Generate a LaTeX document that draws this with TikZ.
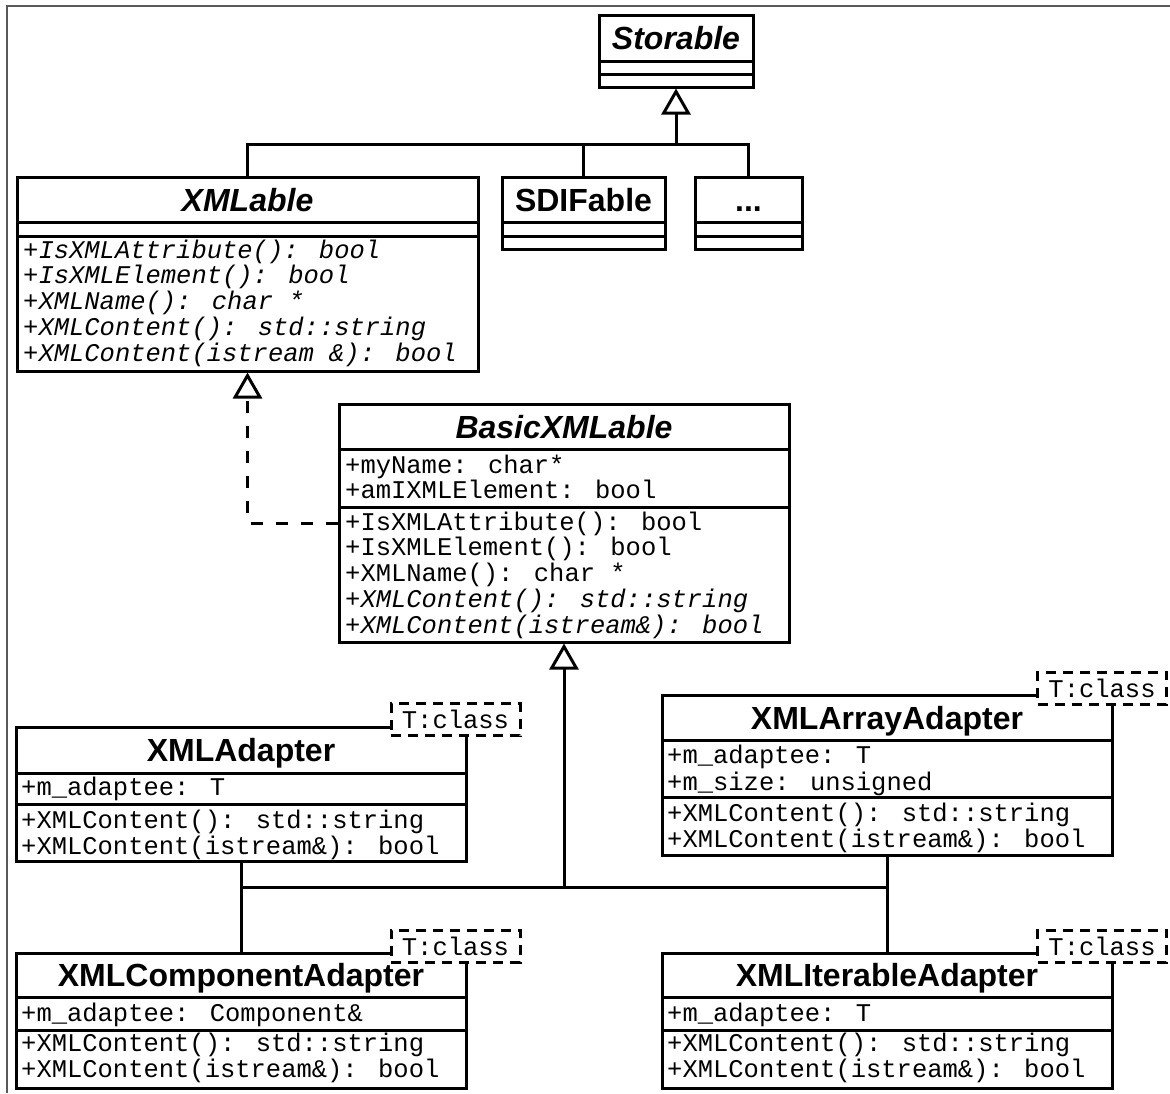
\documentclass[tikz,border=0pt]{standalone}
\usepackage{fontspec}
\newfontfamily\umlsans{Liberation Sans}
\newfontfamily\umlmono{Liberation Mono}
\usetikzlibrary{arrows.meta}
\tikzset{cls/.style={draw, line width=3pt, fill=white, inner sep=0pt}}
\tikzset{rel/.style={line width=3pt}}
\tikzset{ttl/.style={font=\umlsans\bfseries\fontsize{32}{32}\selectfont, anchor=base, inner sep=0pt}}
\tikzset{mem/.style={font=\umlmono\fontsize{25.5}{26}\selectfont, anchor=base west, inner sep=0pt}}
\tikzset{tpl/.style={draw, line width=3pt, dash pattern=on 10pt off 7pt, fill=white, inner sep=0pt,
  minimum width=129pt, minimum height=32pt, font=\umlmono\fontsize{25.5}{26}\selectfont}}
\tikzset{gen/.style={rel, -{Triangle[open, length=26pt, width=29pt]}}}
\tikzset{real/.style={gen, dash pattern=on 12pt off 13pt}}

\begin{document}
\begin{tikzpicture}[x=1pt,y=-1pt]
    \useasboundingbox (0,0) rectangle (1170,1093);
    \draw[line width=1.5pt, black!65] (7,1093) -- (7,6) -- (1170,6);
    % class boxes
    \node[cls, minimum width=154pt, minimum height=72pt] (storable) at (676,51) {};
    \node[cls, minimum width=461pt, minimum height=194pt] (xmlable) at (247.5,274) {};
    \node[cls, minimum width=163pt, minimum height=72pt] (sdifable) at (583.5,213) {};
    \node[cls, minimum width=107pt, minimum height=72pt] (dots) at (748.5,213) {};
    \node[cls, minimum width=450pt, minimum height=238pt] (basic) at (564,523) {};
    \node[cls, minimum width=450pt, minimum height=134pt] (xmladapter) at (241,794) {};
    \node[cls, minimum width=450pt, minimum height=160pt] (arrayadapter) at (887,775) {};
    \node[cls, minimum width=450pt, minimum height=135pt] (compadapter) at (241,1020.5) {};
    \node[cls, minimum width=450pt, minimum height=135pt] (iteradapter) at (887,1020.5) {};
    % compartments
    \foreach \y in {61,74} \draw[rel] (599,\y) -- (753,\y);
    \foreach \y in {222,236} {
      \draw[rel] (17,\y) -- (478,\y);
      \draw[rel] (502,\y) -- (665,\y);
      \draw[rel] (695,\y) -- (802,\y);
    }
    \foreach \y in {449,507} \draw[rel] (339,\y) -- (789,\y);
    \foreach \y in {773,804} \draw[rel] (16,\y) -- (466,\y);
    \foreach \y in {740,797} \draw[rel] (662,\y) -- (1112,\y);
    \foreach \y in {997,1030} {
      \draw[rel] (16,\y) -- (466,\y);
      \draw[rel] (662,\y) -- (1112,\y);
    }
    % names
    \node[ttl] (storablename) at (676,49.5) {\itshape Storable};
    \node[ttl] (xmlablename) at (247.5,211) {\itshape XMLable};
    \node[ttl] (sdifablename) at (583.5,211) {SDIFable};
    \node[ttl] (dotsname) at (748.5,211) {...};
    \node[ttl] (basicname) at (564,438.5) {\itshape BasicXMLable};
    \node[ttl] (xmladaptername) at (241,761.5) {XMLAdapter};
    \node[ttl] (arrayadaptername) at (887,729) {XMLArrayAdapter};
    \node[ttl] (compadaptername) at (241,986.5) {XMLComponentAdapter};
    \node[ttl] (iteradaptername) at (887,986.5) {XMLIterableAdapter};
    % members
    \foreach \s [count=\i] in {+IsXMLAttribute(): bool, +IsXMLElement(): bool, +XMLName(): char *,
        +XMLContent(): std::string, +XMLContent(istream \&): bool}
      \node[mem] (xmlableop\i) at (23,{232.25+25.75*\i}) {\itshape\s};
    \node[mem] (basicattr1) at (345,473) {+myName: char*};
    \node[mem] (basicattr2) at (345,498) {+amIXMLElement: bool};
    \node[mem] (basicop1) at (345,530) {+IsXMLAttribute(): bool};
    \node[mem] (basicop2) at (345,555.75) {+IsXMLElement(): bool};
    \node[mem] (basicop3) at (345,581.5) {+XMLName(): char *};
    \node[mem] (basicop4) at (345,607.25) {\itshape +XMLContent(): std::string};
    \node[mem] (basicop5) at (345,633) {\itshape +XMLContent(istream\&): bool};
    \node[mem] (xmladapterattr) at (21,795) {+m\_adaptee: T};
    \node[mem] (arrayadapterattr1) at (667,763) {+m\_adaptee: T};
    \node[mem] (arrayadapterattr2) at (667,790) {+m\_size: unsigned};
    \node[mem] (compadapterattr) at (21,1021) {+m\_adaptee: Component\&};
    \node[mem] (iteradapterattr) at (667,1021) {+m\_adaptee: T};
    \foreach \n/\x/\y in {xmladapter/21/828, arrayadapter/667/821, compadapter/21/1051, iteradapter/667/1051} {
      \node[mem] (\n op1) at (\x,\y) {+XMLContent(): std::string};
      \node[mem] (\n op2) at (\x,\y+26) {+XMLContent(istream\&): bool};
    }
    % template parameters
    \node[tpl] (xmladaptertpl) at (455.5,719.5) {T:class};
    \node[tpl] (arrayadaptertpl) at (1102,688) {T:class};
    \node[tpl] (compadaptertpl) at (455.5,946) {T:class};
    \node[tpl] (iteradaptertpl) at (1102,946) {T:class};
    % generalisations
    \coordinate (storejoin) at (676,144);
    \draw[gen] (storejoin) -- (storable.south);
    \draw[rel] (xmlable.north) |- (storejoin);
    \draw[rel] (sdifable.north) |- (storejoin);
    \draw[rel] (dots.north) |- (storejoin);
    \draw[real] (basic.west) -| (xmlable.south);
    \coordinate (adaptjoin) at (564,887);
    \draw[gen] (adaptjoin) -- (basic.south);
    \draw[rel] (xmladapter.south) |- (adaptjoin);
    \draw[rel] (arrayadapter.south) |- (adaptjoin);
    \draw[rel] (xmladapter.south) -- (compadapter.north);
    \draw[rel] (arrayadapter.south) -- (iteradapter.north);
\end{tikzpicture}
\end{document}
